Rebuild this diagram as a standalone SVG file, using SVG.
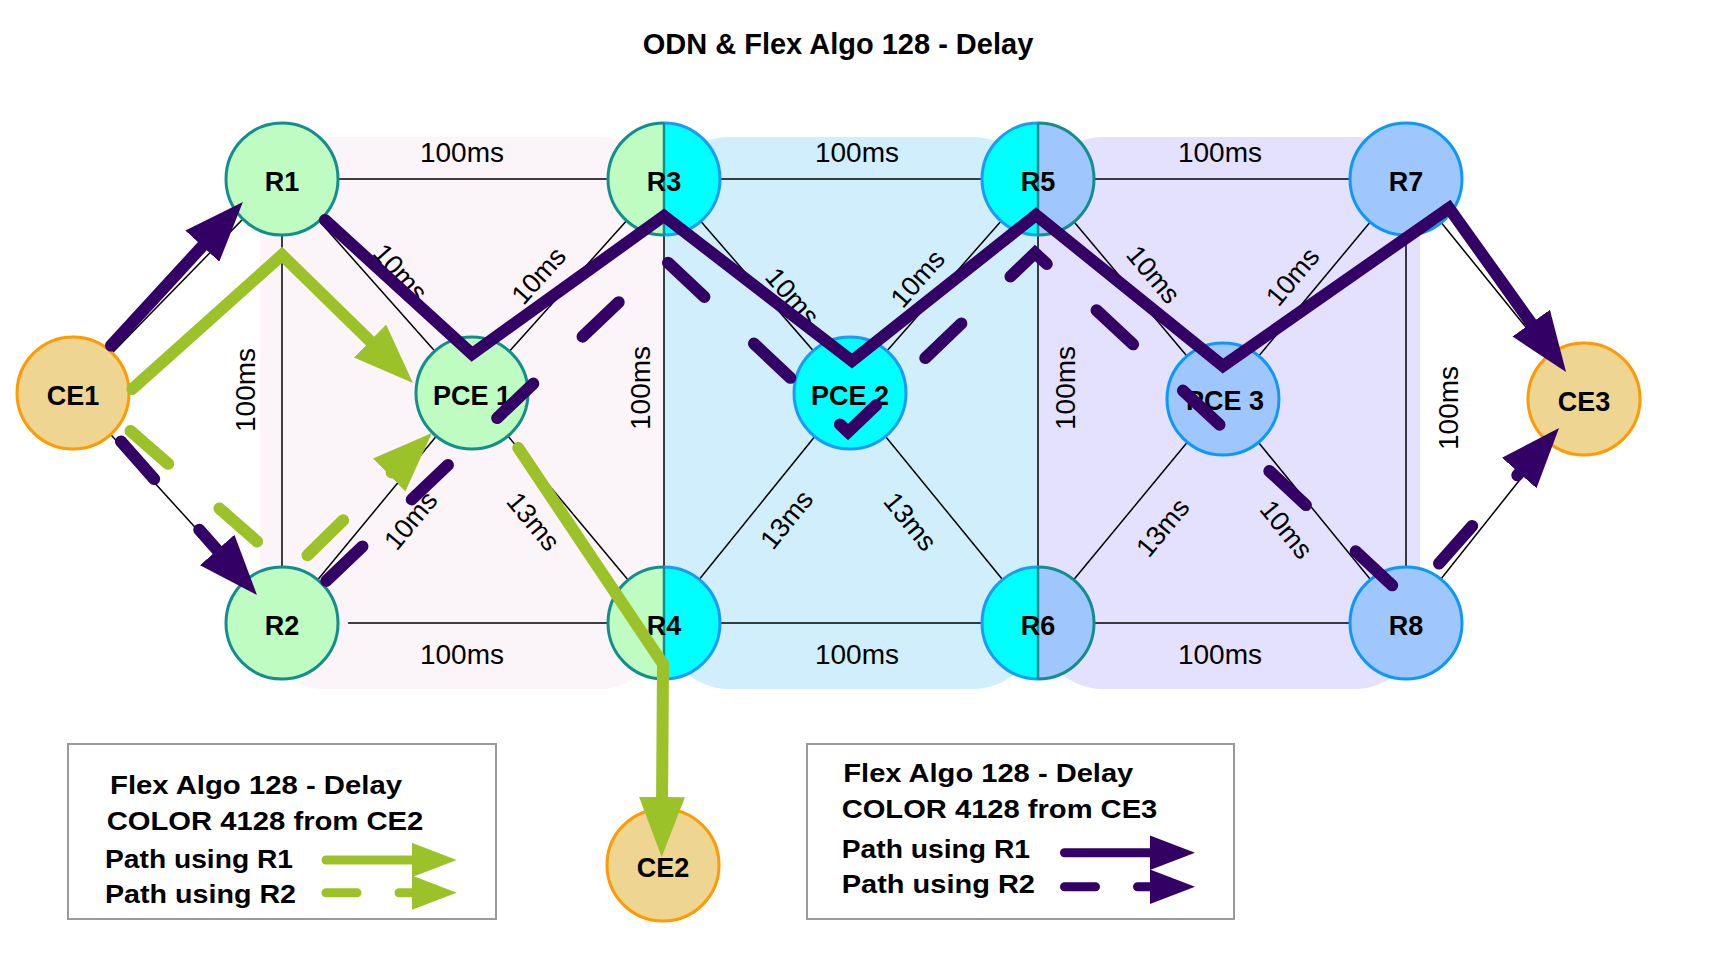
<svg xmlns="http://www.w3.org/2000/svg" width="1724" height="954" viewBox="0 0 1724 954">
<defs>
<style>
text{font-family:"Liberation Sans",Arial,Helvetica,sans-serif;fill:#000}
.title{font-size:29px;font-weight:bold;text-anchor:middle}
.nl{font-size:27px;font-weight:bold;text-anchor:middle}
.ll{font-size:28px;text-anchor:middle}
.dl{font-size:27px;text-anchor:middle}
.lg{font-size:25px;font-weight:bold}
.link{stroke:#000;stroke-width:1.5;fill:none}
.gfill{fill:#BFFCC1}
.cfill{fill:#00FFFF}
.bfill{fill:#9FC7FD}
.tealS{fill:none;stroke:#128E8D;stroke-width:3}
.blueS{fill:none;stroke:#1A9BF6;stroke-width:3}
.green{fill:#BFFCC1;stroke:#128E8D;stroke-width:3}
.cyan{fill:#00FFFF;stroke:#1A9BF6;stroke-width:3}
.lblue{fill:#9FC7FD;stroke:#0A99FA;stroke-width:3}
.ce{fill:#EED592;stroke:#FF9A00;stroke-width:3}
.div{stroke:#128E8D;stroke-width:2.5}
.pp{stroke:#330066;stroke-width:12;fill:none;stroke-linecap:round;stroke-linejoin:miter}
.gp{stroke:#9CC22A;stroke-width:12;fill:none;stroke-linecap:round;stroke-linejoin:miter}
.lp{stroke-width:9}
.dash{stroke-dasharray:50 68}
.ldash{stroke-dasharray:31 42}
.box{fill:#fff;stroke:#9a9a9a;stroke-width:2}
</style>
<marker id="ahP" markerUnits="strokeWidth" viewBox="0 0 60 46" markerWidth="5" markerHeight="3.8333" refX="10" refY="23" orient="auto"><path d="M0,0 L60,23 L0,46 Z" fill="#330066"/></marker>
<marker id="ahG" markerUnits="strokeWidth" viewBox="0 0 60 46" markerWidth="5" markerHeight="3.8333" refX="10" refY="23" orient="auto"><path d="M0,0 L60,23 L0,46 Z" fill="#9CC22A"/></marker>
</defs>

<rect width="1724" height="954" fill="#fff"/>

<g id="regions">
<rect x="260" y="137" width="404" height="552" rx="65" fill="#FBF4F9"/>
<rect x="664" y="137" width="374" height="552" rx="65" fill="#D1EEFD"/>
<rect x="1038" y="137" width="382" height="552" rx="65" fill="#E3E1FD"/>
</g>

<text class="title" x="838" y="54">ODN &amp; Flex Algo 128 - Delay</text>

<g id="links">
<line class="link" x1="73" y1="393" x2="282" y2="179"/>
<line class="link" x1="73" y1="393" x2="282" y2="623"/>
<line class="link" x1="282" y1="179" x2="664" y2="179"/>
<line class="link" x1="664" y1="179" x2="1038" y2="179"/>
<line class="link" x1="1038" y1="179" x2="1406" y2="179"/>
<line class="link" x1="348" y1="623" x2="664" y2="623"/>
<line class="link" x1="664" y1="623" x2="1038" y2="623"/>
<line class="link" x1="1038" y1="623" x2="1406" y2="623"/>
<line class="link" x1="282" y1="179" x2="282" y2="623"/>
<line class="link" x1="664" y1="179" x2="664" y2="623"/>
<line class="link" x1="1038" y1="179" x2="1038" y2="623"/>
<line class="link" x1="1406" y1="179" x2="1406" y2="623"/>
<line class="link" x1="282" y1="179" x2="472" y2="393"/>
<line class="link" x1="664" y1="179" x2="472" y2="393"/>
<line class="link" x1="282" y1="623" x2="472" y2="393"/>
<line class="link" x1="664" y1="623" x2="472" y2="393"/>
<line class="link" x1="664" y1="179" x2="850" y2="393"/>
<line class="link" x1="1038" y1="179" x2="850" y2="393"/>
<line class="link" x1="664" y1="623" x2="850" y2="393"/>
<line class="link" x1="1038" y1="623" x2="850" y2="393"/>
<line class="link" x1="1038" y1="179" x2="1223" y2="399"/>
<line class="link" x1="1406" y1="179" x2="1223" y2="399"/>
<line class="link" x1="1038" y1="623" x2="1223" y2="399"/>
<line class="link" x1="1406" y1="623" x2="1223" y2="399"/>
<line class="link" x1="1406" y1="179" x2="1584" y2="399"/>
<line class="link" x1="1406" y1="623" x2="1584" y2="399"/>
</g>

<g id="link-labels">
<text class="ll" x="462" y="162">100ms</text>
<text class="ll" x="857" y="162">100ms</text>
<text class="ll" x="1220" y="162">100ms</text>
<text class="ll" x="462" y="664">100ms</text>
<text class="ll" x="857" y="664">100ms</text>
<text class="ll" x="1220" y="664">100ms</text>
<text class="ll" transform="translate(255,390) rotate(-90)">100ms</text>
<text class="ll" transform="translate(650,388) rotate(-90)">100ms</text>
<text class="ll" transform="translate(1075,388) rotate(-90)">100ms</text>
<text class="ll" transform="translate(1458,408) rotate(-90)">100ms</text>
<text class="dl" y="10" transform="translate(401,272) rotate(48.4)">10ms</text>
<text class="dl" y="10" transform="translate(538,275) rotate(-48.1)">10ms</text>
<text class="dl" y="10" transform="translate(793,296) rotate(49)">10ms</text>
<text class="dl" y="10" transform="translate(917,278) rotate(-48.7)">10ms</text>
<text class="dl" y="10" transform="translate(1154,274) rotate(50)">10ms</text>
<text class="dl" y="10" transform="translate(1292,276) rotate(-50.2)">10ms</text>
<text class="dl" y="10" transform="translate(410,520) rotate(-50.4)">10ms</text>
<text class="dl" y="10" transform="translate(534,521) rotate(50.1)">13ms</text>
<text class="dl" y="10" transform="translate(786,519) rotate(-51)">13ms</text>
<text class="dl" y="10" transform="translate(911,521) rotate(50.7)">13ms</text>
<text class="dl" y="10" transform="translate(1162,527) rotate(-50.4)">13ms</text>
<text class="dl" y="10" transform="translate(1287,529) rotate(50.8)">10ms</text>
</g>

<g id="CE1"><circle class="ce" cx="73" cy="393" r="56"/><text class="nl" x="73" y="405">CE1</text></g>
<g id="CE2"><circle class="ce" cx="663" cy="865" r="56"/><text class="nl" x="663" y="877">CE2</text></g>
<g id="CE3"><circle class="ce" cx="1584" cy="399" r="56"/><text class="nl" x="1584" y="411">CE3</text></g>
<g id="R1"><circle class="green" cx="282" cy="179" r="56"/><text class="nl" x="282" y="191">R1</text></g>
<g id="R2"><circle class="green" cx="282" cy="623" r="56"/><text class="nl" x="282" y="635">R2</text></g>
<g id="PCE1"><circle class="green" cx="472" cy="393" r="56"/><text class="nl" x="472" y="405">PCE 1</text></g>
<g id="R3">
<path class="gfill" d="M664,123 A56,56 0 0 0 664,235 Z"/><path class="cfill" d="M664,123 A56,56 0 0 1 664,235 Z"/>
<path class="tealS" d="M664,123 A56,56 0 0 0 664,235"/><path class="blueS" d="M664,123 A56,56 0 0 1 664,235"/>
<line class="div" x1="664" y1="123" x2="664" y2="235"/>
<text class="nl" x="664" y="191">R3</text></g>
<g id="R4">
<path class="gfill" d="M664,567 A56,56 0 0 0 664,679 Z"/><path class="cfill" d="M664,567 A56,56 0 0 1 664,679 Z"/>
<path class="tealS" d="M664,567 A56,56 0 0 0 664,679"/><path class="blueS" d="M664,567 A56,56 0 0 1 664,679"/>
<line class="div" x1="664" y1="567" x2="664" y2="679"/>
<text class="nl" x="664" y="635">R4</text></g>
<g id="PCE2"><circle class="cyan" cx="850" cy="393" r="56"/><text class="nl" x="850" y="405">PCE 2</text></g>
<g id="R5">
<path class="cfill" d="M1038,123 A56,56 0 0 0 1038,235 Z"/><path class="bfill" d="M1038,123 A56,56 0 0 1 1038,235 Z"/>
<path class="blueS" d="M1038,123 A56,56 0 0 0 1038,235"/><path class="tealS" d="M1038,123 A56,56 0 0 1 1038,235"/>
<line class="div" x1="1038" y1="123" x2="1038" y2="235"/>
<text class="nl" x="1038" y="191">R5</text></g>
<g id="R6">
<path class="cfill" d="M1038,567 A56,56 0 0 0 1038,679 Z"/><path class="bfill" d="M1038,567 A56,56 0 0 1 1038,679 Z"/>
<path class="blueS" d="M1038,567 A56,56 0 0 0 1038,679"/><path class="tealS" d="M1038,567 A56,56 0 0 1 1038,679"/>
<line class="div" x1="1038" y1="567" x2="1038" y2="679"/>
<text class="nl" x="1038" y="635">R6</text></g>
<g id="PCE3"><circle class="lblue" cx="1223" cy="399" r="56"/><text class="nl" x="1225" y="410">PCE 3</text></g>
<g id="R7"><circle class="lblue" cx="1406" cy="179" r="56"/><text class="nl" x="1406" y="191">R7</text></g>
<g id="R8"><circle class="lblue" cx="1406" cy="623" r="56"/><text class="nl" x="1406" y="635">R8</text></g>

<g id="paths">
<path class="gp" d="M132.4,388.9 L282,255 L377.2,348" marker-end="url(#ahG)"/>
<path class="gp" d="M518.3,448 L663,664 L662,807" marker-end="url(#ahG)"/>
<path class="gp dash" d="M130.5,431 L291.3,571.2 L396.3,468" marker-end="url(#ahG)"/>
<path class="pp" d="M111,345.6 L209.1,238.8" marker-end="url(#ahP)"/>
<path class="pp" d="M325,220 L472,354 L664,216 L852,361 L1036,215 L1223,366 L1449,208 L1537,331.3" marker-end="url(#ahP)"/>
<path class="pp dash" d="M121,441.5 L223.8,557.5" marker-end="url(#ahP)"/>
<path class="pp dash" d="M326.3,580.9 L664,259 L848,432 L1035,253 L1392.2,585.3"/>
<path class="pp dash" d="M1439,563.5 L1525.9,465.5" marker-end="url(#ahP)"/>
</g>

<g id="legend-ce2">
<rect class="box" x="68" y="744" width="428" height="175"/>
<text class="lg" x="110" y="794" textLength="292" lengthAdjust="spacingAndGlyphs">Flex Algo 128 - Delay</text>
<text class="lg" x="106.7" y="830" textLength="316.6" lengthAdjust="spacingAndGlyphs">COLOR 4128 from CE2</text>
<text class="lg" x="105" y="868" textLength="188" lengthAdjust="spacingAndGlyphs">Path using R1</text>
<text class="lg" x="105" y="903" textLength="191" lengthAdjust="spacingAndGlyphs">Path using R2</text>
<path class="gp lp" d="M326,860 H419.2" marker-end="url(#ahG)"/>
<path class="gp lp ldash" d="M326,892.7 H419.2" marker-end="url(#ahG)"/>
</g>

<g id="legend-ce3">
<rect class="box" x="807" y="744" width="427" height="175"/>
<text class="lg" x="843.3" y="782" textLength="290" lengthAdjust="spacingAndGlyphs">Flex Algo 128 - Delay</text>
<text class="lg" x="841.7" y="818" textLength="315.6" lengthAdjust="spacingAndGlyphs">COLOR 4128 from CE3</text>
<text class="lg" x="841.7" y="858" textLength="188.3" lengthAdjust="spacingAndGlyphs">Path using R1</text>
<text class="lg" x="841.7" y="893" textLength="193.3" lengthAdjust="spacingAndGlyphs">Path using R2</text>
<path class="pp lp" d="M1064.5,852.7 H1157.5" marker-end="url(#ahP)"/>
<path class="pp lp ldash" d="M1064.5,886.7 H1157.5" marker-end="url(#ahP)"/>
</g>
</svg>
